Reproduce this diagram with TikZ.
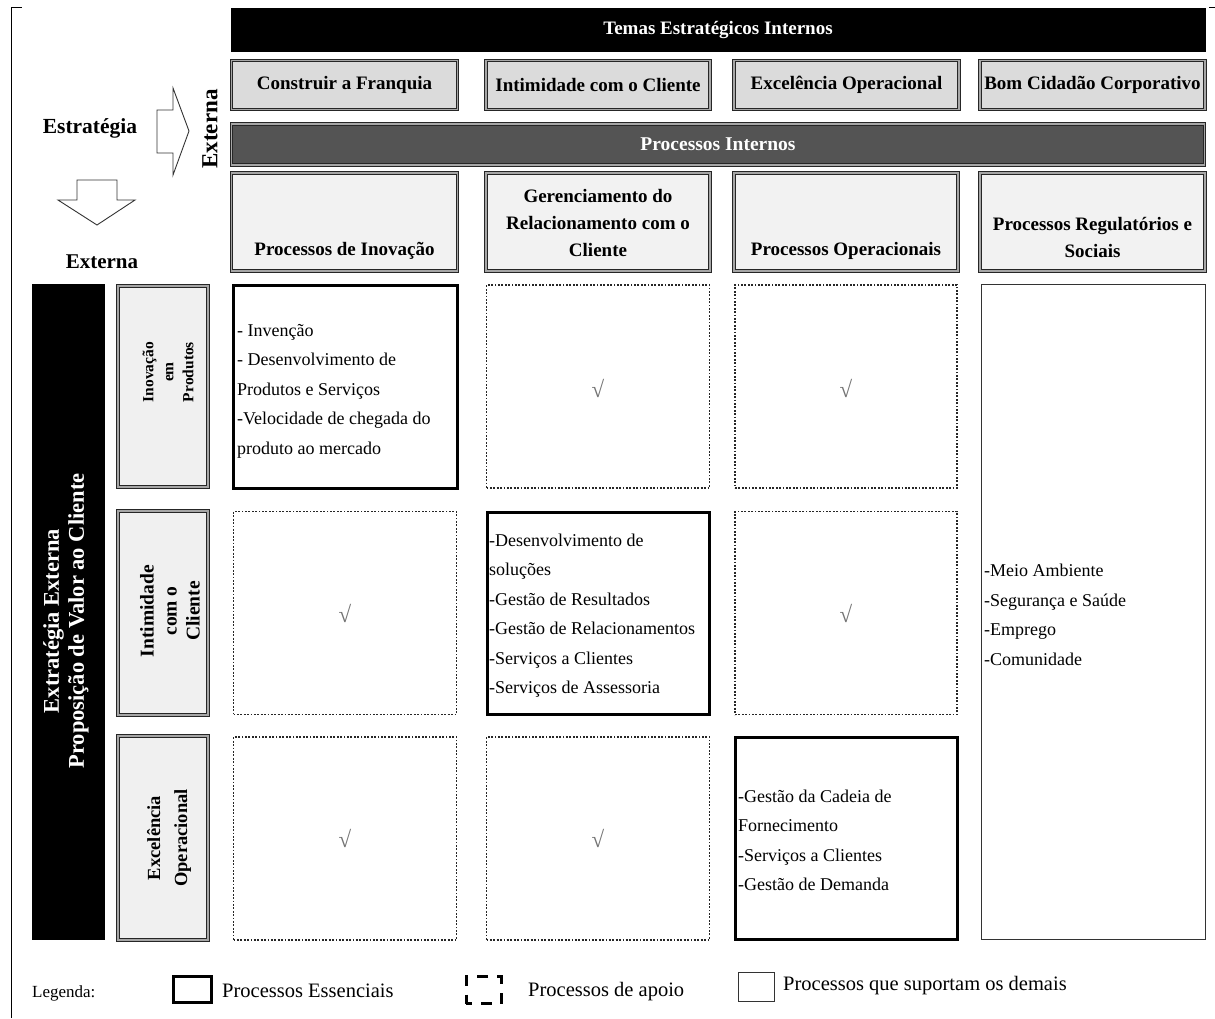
\documentclass[tikz,border=0pt]{standalone}
\usepackage{fontspec}
\setmainfont{Liberation Serif}
\begin{document}
\begin{tikzpicture}[x=1pt,y=-1pt,
  dbl/.style={draw=black!85, line width=0.9pt, double=black!35, double distance=1.3pt, inner sep=0pt},
  blackbar/.style={fill=black, draw=black, text=white, font=\bfseries\fontsize{19}{22}\selectfont, inner sep=0pt},
  darkbar/.style={dbl, fill=black!67, text=white, font=\bfseries\fontsize{19.5}{22}\selectfont},
  themebox/.style={dbl, fill=black!14, font=\bfseries\fontsize{19}{22}\selectfont},
  hdrbox/.style={dbl, fill=black!5},
  hdrtxt/.style={font=\bfseries\fontsize{19}{27}\selectfont, align=center, inner sep=0pt},
  rowbox/.style={dbl, fill=black!6},
  rowtxt/.style={rotate=90, align=center, inner sep=0pt},
  essential/.style={draw=black, line width=3pt, inner sep=0pt},
  support/.style={draw=black!85, line width=1.1pt, dash pattern=on 1.8pt off 1.6pt, inner sep=0pt},
  plainbox/.style={draw=black!80, line width=1pt, inner sep=0pt},
  celltxt/.style={font=\fontsize{18}{29.5}\selectfont, align=left, inner sep=0pt, anchor=west},
  check/.style={font=\fontsize{23}{23}\selectfont, text=black!55, inner sep=0pt},
  legtxt/.style={font=\fontsize{20.5}{22}\selectfont, inner sep=0pt, anchor=west},
  arrowshape/.style={draw=black!80, line width=0.9pt, fill=white}
]
\useasboundingbox (0,0) rectangle (1215,1018);

% frame marks
\coordinate (fa) at (11,1018);
\coordinate (fb) at (11,7);
\coordinate (fc) at (22,7);
\draw[line width=1pt] (fa) -- (fb) -- (fc);
\coordinate (fd) at (1209,7);
\coordinate (fe) at (1215,7);
\draw[line width=1pt] (fd) -- (fe);

% top bars
\node[blackbar, minimum width=974pt, minimum height=43pt] (temas) at (718,30) {Temas Estratégicos Internos};
\node[themebox, minimum width=226pt, minimum height=49pt] (t1) at (344.5,85) {Construir a Franquia};
\node[themebox, minimum width=224pt, minimum height=49pt] (t2) at (598,85) {Intimidade com o Cliente};
\node[themebox, minimum width=225pt, minimum height=49pt] (t3) at (846.5,85) {Excelência Operacional};
\node[themebox, minimum width=225pt, minimum height=49pt] (t4) at (1092.5,85) {Bom Cidadão Corporativo};
\node[darkbar, minimum width=973pt, minimum height=41pt] (proc) at (718,144.5) {Processos Internos};

% header row
\node[hdrbox, minimum width=226pt, minimum height=98pt] (h1) at (344.5,222) {};
\node[hdrbox, minimum width=224pt, minimum height=98pt] (h2) at (598,222) {};
\node[hdrbox, minimum width=224pt, minimum height=98pt] (h3) at (846,222) {};
\node[hdrbox, minimum width=225pt, minimum height=98pt] (h4) at (1092.5,222) {};
\node[hdrtxt] (h1t) at (344.5,251) {Processos de Inovação};
\node[hdrtxt] (h2t) at (598,223) {Gerenciamento do\\Relacionamento com o\\Cliente};
\node[hdrtxt] (h3t) at (846,251) {Processos Operacionais};
\node[hdrtxt] (h4t) at (1092.5,237) {Processos Regulatórios e\\Sociais};

% left labels and arrows
\node[font=\bfseries\fontsize{21.5}{24}\selectfont, inner sep=0pt] (estr) at (90,128) {Estratégia};
\node[font=\bfseries\fontsize{21}{24}\selectfont, inner sep=0pt] (ext1) at (102,262) {Externa};
\node[font=\bfseries\fontsize{23}{25}\selectfont, inner sep=0pt, rotate=90] (ext2) at (210,129) {Externa};
\draw[arrowshape] (157,110) -- (173,110) -- (173,88) -- (189,131) -- (173,175) -- (173,153) -- (157,153) -- cycle;
\draw[arrowshape] (77,180) -- (117,180) -- (117,200) -- (135,200) -- (97,225) -- (58,200) -- (77,200) -- cycle;

% left black bar
\node[fill=black, minimum width=73pt, minimum height=656pt, inner sep=0pt] (lbar) at (68.5,612) {};
\node[rotate=90, text=white, font=\bfseries\fontsize{22.5}{25}\selectfont, align=center, inner sep=0pt] (lbart) at (66,621) {Extratégia Externa\\Proposição de Valor ao Cliente};

% row labels
\node[rowbox, minimum width=90pt, minimum height=201pt] (r1) at (163,386.5) {};
\node[rowbox, minimum width=90pt, minimum height=204pt] (r2) at (163,613) {};
\node[rowbox, minimum width=90pt, minimum height=204pt] (r3) at (163,838) {};
\node[rowtxt, font=\bfseries\fontsize{15.5}{20}\selectfont] (r1t) at (168,372) {Inovação\\em\\Produtos};
\node[rowtxt, font=\bfseries\fontsize{19.5}{23}\selectfont] (r2t) at (170,611) {Intimidade\\com o\\Cliente};
\node[rowtxt, font=\bfseries\fontsize{18.5}{27}\selectfont] (r3t) at (169,838) {Excelência\\Operacional};

% grid row 1
\node[essential, minimum width=224pt, minimum height=203pt] (c11) at (345,386.5) {};
\node[support, minimum width=223pt, minimum height=203pt] (c12) at (598,386.5) {};
\node[support, minimum width=222pt, minimum height=203pt] (c13) at (846,386.5) {};
% grid row 2
\node[support, minimum width=223pt, minimum height=203pt] (c21) at (345,613) {};
\node[essential, minimum width=222pt, minimum height=202pt] (c22) at (598,613) {};
\node[support, minimum width=222pt, minimum height=203pt] (c23) at (846,613) {};
% grid row 3
\node[support, minimum width=223pt, minimum height=203pt] (c31) at (345,838.5) {};
\node[support, minimum width=223pt, minimum height=203pt] (c32) at (598,838.5) {};
\node[essential, minimum width=222pt, minimum height=202pt] (c33) at (846,838) {};
% column 4
\node[plainbox, minimum width=224pt, minimum height=655pt] (c4) at (1093,612) {};

% checks
\node[check] (k12) at (598,388) {√};
\node[check] (k13) at (846,388) {√};
\node[check] (k21) at (345,613) {√};
\node[check] (k23) at (846,613) {√};
\node[check] (k31) at (345,838) {√};
\node[check] (k32) at (598,838) {√};

% cell texts
\node[celltxt] (x11) at (237,391) {- Invenção\\- Desenvolvimento de\\Produtos e Serviços\\-Velocidade de chegada do\\produto ao mercado};
\node[celltxt] (x22) at (489,615.5) {-Desenvolvimento de\\soluções\\-Gestão de Resultados\\-Gestão de Relacionamentos\\-Serviços a Clientes\\-Serviços de Assessoria};
\node[celltxt] (x33) at (738,840.5) {-Gestão da Cadeia de\\Fornecimento\\-Serviços a Clientes\\-Gestão de Demanda};
\node[celltxt] (x4) at (984,615) {-Meio Ambiente\\-Segurança e Saúde\\-Emprego\\-Comunidade};

% legend
\node[font=\fontsize{17}{18}\selectfont, inner sep=0pt, anchor=west] (leg) at (32,993) {Legenda:};
\node[draw=black, line width=3pt, minimum width=38pt, minimum height=26pt, inner sep=0pt] (lg1) at (192,989) {};
\node[legtxt] (lg1t) at (222,991) {Processos Essenciais};
\node[draw=black, line width=3pt, dash pattern=on 11pt off 9pt, dash phase=5pt, minimum width=35pt, minimum height=27pt, inner sep=0pt] (lg2) at (483.5,990) {};
\node[legtxt] (lg2t) at (528,992) {Processos de apoio};
\node[draw=black!80, line width=1pt, minimum width=36pt, minimum height=29pt, inner sep=0pt] (lg3) at (756.5,987) {};
\node[legtxt] (lg3t) at (783,986) {Processos que suportam os demais};
\end{tikzpicture}
\end{document}
